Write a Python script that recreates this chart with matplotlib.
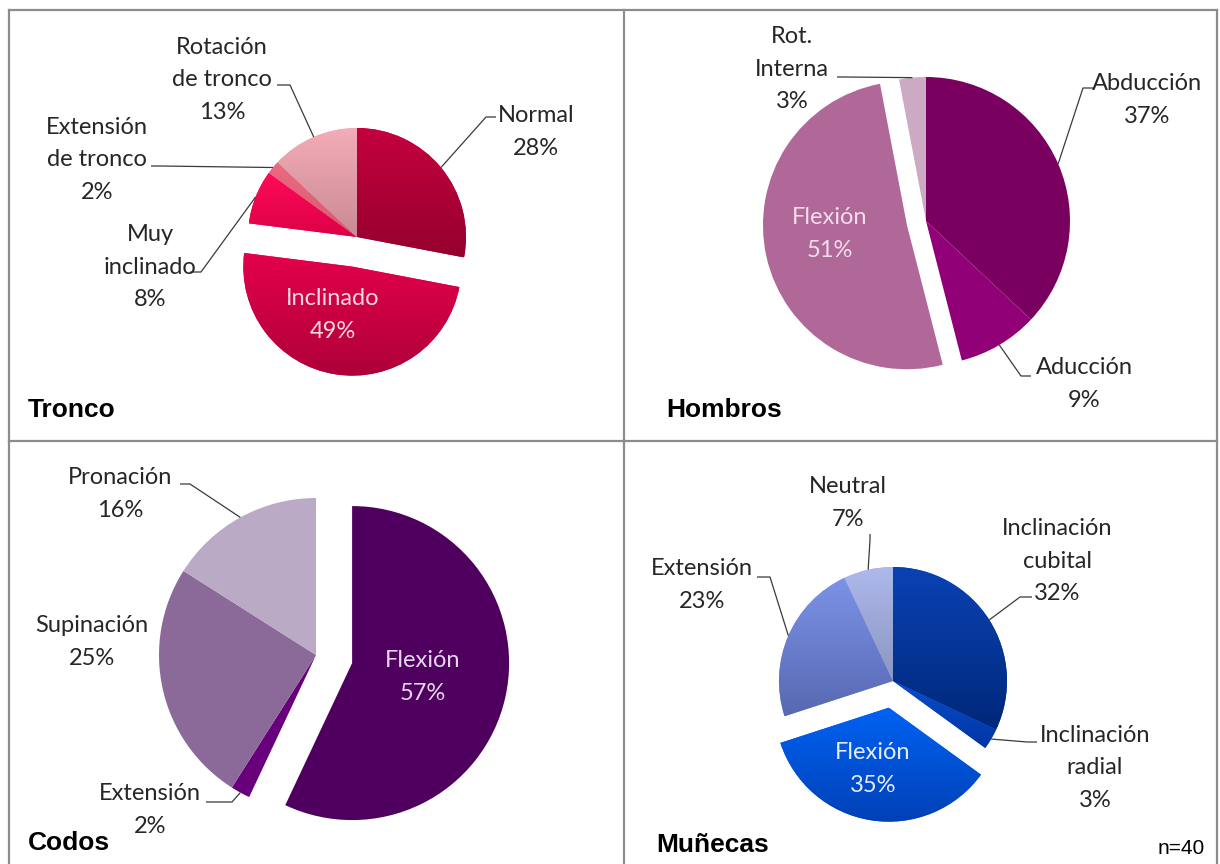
import numpy as np
import matplotlib
matplotlib.use("Agg")
import matplotlib.pyplot as plt
from matplotlib.colors import to_rgb

# ---- data -------------------------------------------------------------
tronco_labels = ["Normal", "Inclinado", "Muy\ninclinado", "Extensión\nde tronco", "Rotación\nde tronco"]
tronco_values = [28, 49, 8, 2, 13]

hombros_labels = ["Abducción", "Aducción", "Flexión", "Rot.\nInterna"]
hombros_values = [37, 9, 51, 3]

codos_labels = ["Flexión", "Extensión", "Supinación", "Pronación"]
codos_values = [57, 2, 25, 16]

munecas_labels = ["Inclinación\ncubital", "Inclinación\nradial", "Flexión", "Extensión", "Neutral"]
munecas_values = [32, 3, 35, 23, 7]

panel_titles = ["Tronco", "Hombros", "Codos", "Muñecas"]
sample_note = "n=40"

# ---- canvas (pixel-like coordinates, origin bottom-left) --------------
W, H = 1220, 864
fig = plt.figure(figsize=(W / 100, H / 100), dpi=100)
ax = fig.add_axes([0, 0, 1, 1])

LABEL_FONT = dict(family="Lato", size=17, color="#262626")
TITLE_FONT = dict(family="Liberation Sans", size=19, weight="bold", color="black")


def Y(y):
    return H - y


def shade(wedge, top, bottom):
    """Fill a wedge with a vertical colour ramp (top -> bottom)."""
    v = wedge.get_path().vertices
    x0, x1 = v[:, 0].min(), v[:, 0].max()
    y0, y1 = v[:, 1].min(), v[:, 1].max()
    t = np.linspace(0, 1, 64)[:, None]
    c0, c1 = np.array(to_rgb(bottom)), np.array(to_rgb(top))
    img = (c0 + (c1 - c0) * t)[:, None, :]
    im = ax.imshow(img, extent=(x0, x1, y0, y1), origin="lower",
                   interpolation="bilinear", aspect="auto", zorder=2)
    im.set_clip_path(wedge)


def rim_point(wedge):
    mid = np.deg2rad((wedge.theta1 + wedge.theta2) / 2)
    cx, cy = wedge.center
    return cx + wedge.r * np.cos(mid), cy + wedge.r * np.sin(mid)


def leader(wedge, start, elbow):
    px, py = rim_point(wedge)
    ax.plot([start[0], elbow[0], px], [Y(start[1]), Y(elbow[1]), py],
            color="#3a3a3a", lw=0.9, zorder=3, solid_capstyle="butt")


def label(text, xy, color=None):
    kw = dict(LABEL_FONT)
    if color:
        kw["color"] = color
    ax.text(xy[0], Y(xy[1]), text, ha="center", va="center",
            multialignment="center", linespacing=1.65, zorder=4, **kw)


def draw_pie(values, center, radius, explode, colors):
    wedges, _ = ax.pie(values, explode=explode, startangle=90, counterclock=False,
                       radius=radius, center=(center[0], Y(center[1])),
                       colors=colors, wedgeprops=dict(linewidth=0), frame=True)
    for w in wedges:
        w.set_zorder(1)
    return wedges


# ---- Tronco -----------------------------------------------------------
t_top = ["#c4003e", "#e4004c", "#ff0b57", "#ec6a82", "#f3acb8"]
t_bot = ["#96002e", "#ad0038", "#dc0048", "#d45a70", "#c98a94"]
tw = draw_pie(tronco_values, (357, 237), 109, [0, 30, 0, 0, 0], t_top)
for w, a, b in zip(tw, t_top, t_bot):
    shade(w, a, b)
label(f"{tronco_labels[0]}\n{tronco_values[0]}%", (536, 132))
leader(tw[0], (496, 117), (486, 117))
label(f"{tronco_labels[1]}\n{tronco_values[1]}%", (333, 315), color="#f6d8e2")
label(f"{tronco_labels[2]}\n{tronco_values[2]}%", (150, 267))
leader(tw[2], (190, 272), (201, 272))
label(f"{tronco_labels[3]}\n{tronco_values[3]}%", (97, 160))
leader(tw[3], (151, 166), (160, 166))
label(f"{tronco_labels[4]}\n{tronco_values[4]}%", (222, 80))
leader(tw[4], (277, 85), (290, 85))

# ---- Hombros ----------------------------------------------------------
h_cols = ["#7a005f", "#910077", "#b06898", "#ccaac4"]
hw = draw_pie(hombros_values, (926, 221), 144, [0, 0, 19.5, 0], h_cols)
label(f"{hombros_labels[0]}\n{hombros_values[0]}%", (1147, 100))
leader(hw[0], (1093, 88), (1083, 88))
label(f"{hombros_labels[1]}\n{hombros_values[1]}%", (1084, 384))
leader(hw[1], (1031, 376), (1021, 376))
label(f"{hombros_labels[2]}\n{hombros_values[2]}%", (830, 234), color="#f2dcec")
label(f"{hombros_labels[3]}\n{hombros_values[3]}%", (792, 69))
leader(hw[3], (837, 77), (845, 77))

# ---- Codos ------------------------------------------------------------
c_cols = ["#4f005e", "#68007c", "#8b6a9a", "#bbaac5"]
cw = draw_pie(codos_values, (316, 655), 157, [37, 0, 0, 0], c_cols)
label(f"{codos_labels[0]}\n{codos_values[0]}%", (423, 677), color="#e6d6ee")
label(f"{codos_labels[1]}\n{codos_values[1]}%", (150, 810))
leader(cw[1], (206, 802), (232, 802))
label(f"{codos_labels[2]}\n{codos_values[2]}%", (92, 642))
label(f"{codos_labels[3]}\n{codos_values[3]}%", (120, 494))
leader(cw[3], (180, 484), (190, 484))

# ---- Muñecas ----------------------------------------------------------
m_top = ["#0a42b4", "#0a4ccc", "#0062f2", "#7b93e6", "#adb8ec"]
m_bot = ["#00287a", "#0036a4", "#0040b6", "#5868b2", "#8c96c0"]
mw = draw_pie(munecas_values, (893, 681), 114, [0, 0, 27, 0, 0], m_top)
for w, a, b in zip(mw, m_top, m_bot):
    shade(w, a, b)
label(f"{munecas_labels[0]}\n{munecas_values[0]}%", (1057, 561))
leader(mw[0], (1032, 597), (1020, 597))
label(f"{munecas_labels[1]}\n{munecas_values[1]}%", (1095, 768))
leader(mw[1], (1037, 742), (1027, 742))
label(f"{munecas_labels[2]}\n{munecas_values[2]}%", (873, 769), color="#e4ecff")
label(f"{munecas_labels[3]}\n{munecas_values[3]}%", (702, 585))
leader(mw[3], (757, 577), (770, 577))
label(f"{munecas_labels[4]}\n{munecas_values[4]}%", (848, 503))
leader(mw[4], (870, 534), (870, 540))

# ---- panel titles, note and frame -------------------------------------
for txt, (x, y) in zip(panel_titles, [(28, 410), (666, 410), (28, 843), (656, 845)]):
    ax.text(x, Y(y), txt, ha="left", va="center", zorder=4, **TITLE_FONT)
ax.text(1205, Y(848), sample_note, ha="right", va="center",
        family="Liberation Sans", size=15, color="black")

grid = dict(color="#8c8c8c", lw=1.6, zorder=5, solid_capstyle="projecting")
for x in (9, 624, 1217):
    ax.plot([x, x], [Y(10), Y(870)], **grid)
for y in (10, 441):
    ax.plot([9, 1217], [Y(y), Y(y)], **grid)

ax.set_xlim(0, W)
ax.set_ylim(0, H)
ax.set_aspect("auto")
ax.axis("off")
fig.savefig("out.png", dpi=100, facecolor="white")
